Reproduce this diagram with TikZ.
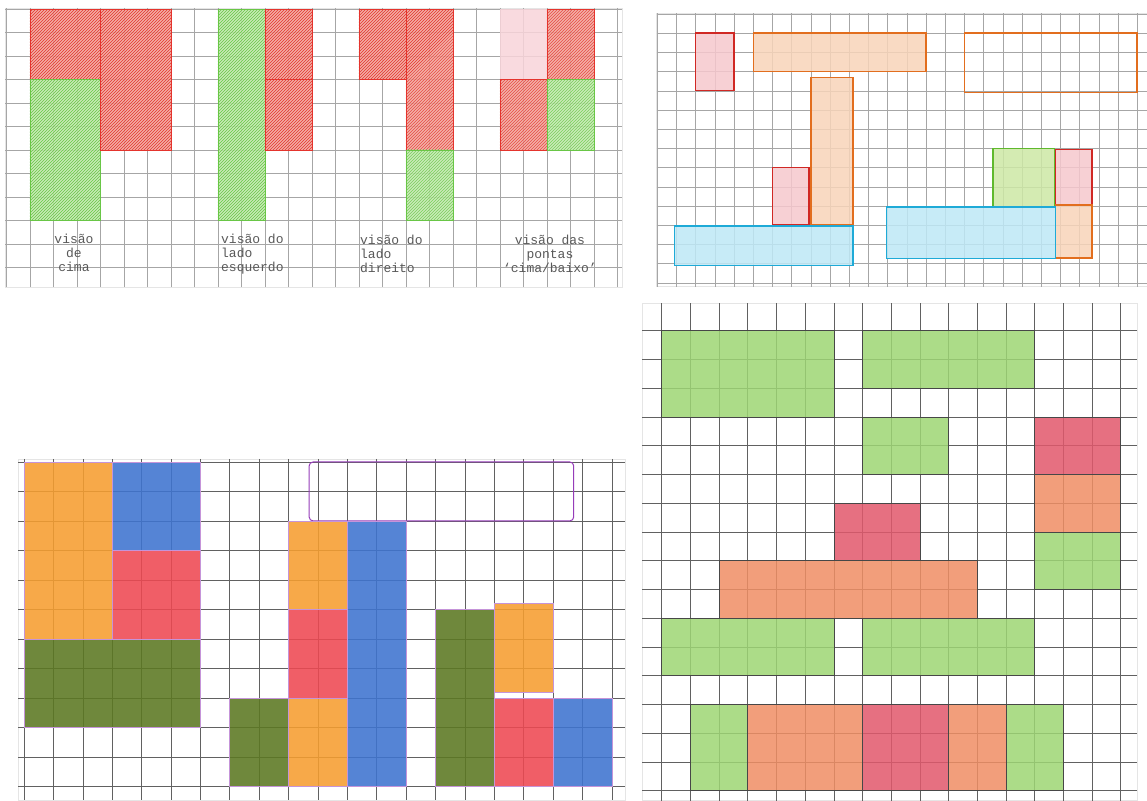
\documentclass[tikz,border=0pt]{standalone}
\usepackage{fontspec}
\usetikzlibrary{patterns}
\newfontfamily\handfont{Liberation Mono}
\definecolor{hatchred}{RGB}{228,52,45}
\definecolor{hatchredfill}{RGB}{242,160,150}
\definecolor{hatchgreen}{RGB}{105,198,70}
\definecolor{hatchgreenfill}{RGB}{190,232,170}
\definecolor{softpink}{RGB}{249,212,218}
\definecolor{penred}{RGB}{208,40,36}
\definecolor{penorange}{RGB}{226,110,30}
\definecolor{pencyan}{RGB}{30,170,215}
\definecolor{pengreen}{RGB}{95,185,45}
\definecolor{tintred}{RGB}{246,200,205}
\definecolor{tintorange}{RGB}{248,212,185}
\definecolor{tintcyan}{RGB}{190,232,246}
\definecolor{tintgreen}{RGB}{205,232,165}
\definecolor{crayorange}{RGB}{246,158,48}
\definecolor{crayblue}{RGB}{62,116,208}
\definecolor{crayred}{RGB}{238,72,82}
\definecolor{crayolive}{RGB}{92,120,34}
\definecolor{craypurple}{RGB}{150,60,185}
\definecolor{leafgreen}{RGB}{158,214,116}
\definecolor{rosered}{RGB}{226,88,108}
\definecolor{salmon}{RGB}{240,142,100}

\begin{document}
\begin{tikzpicture}[
        x=1pt, y=-1pt,
        paper/.style={fill=white, draw=black!10, line width=0.4pt},
        gridline/.style={draw=black!35, line width=0.5pt},
        darkgrid/.style={draw=black!62, line width=0.55pt},
        redhatch/.style={fill=hatchredfill, draw=hatchred, line width=0.8pt, fill opacity=0.85,
            postaction={pattern=north east lines, pattern color=hatchred}},
        greenhatch/.style={fill=hatchgreenfill, draw=hatchgreen, line width=0.8pt, fill opacity=0.85,
            postaction={pattern=north east lines, pattern color=hatchgreen}},
        pinkwash/.style={fill=softpink, fill opacity=0.85},
        penbox/.style={line width=1.4pt, fill opacity=0.85},
        crayon/.style={draw=craypurple!55, line width=0.6pt, fill opacity=0.88},
        pencil/.style={draw=black!72, line width=0.6pt, fill opacity=0.85},
        hand/.style={font=\handfont\fontsize{13}{14}\selectfont, text=black!65, inner sep=0pt}
        ]
        % top left sheet
        \begin{scope}[xshift=6.5pt, yshift=-9.3pt, x=23.5pt, y=-23.45pt]
            \draw[paper] (-0.06,-0.06) rectangle (26.19,11.84);
            \foreach \i in {0,...,26} \draw[gridline] (\i,-0.06) -- (\i,11.84);
            \foreach \j in {0,...,11} \draw[gridline] (-0.06,\j) -- (26.19,\j);

            % de cima
            \draw[redhatch] (1,0) rectangle (4,3);
            \draw[greenhatch] (1,3) rectangle (4,9);
            \draw[redhatch] (4,0) rectangle (7,6);

            % lado esquerdo
            \draw[greenhatch] (9,0) rectangle (11,9);
            \draw[redhatch] (11,0) rectangle (13,3);
            \draw[redhatch] (11,3) rectangle (13,6);

            % lado direito
            \draw[redhatch] (15,0) rectangle (17,3);
            \draw[redhatch] (17,0) rectangle (19,6);
            \draw[greenhatch] (17,6) rectangle (19,9);

            % pontas
            \fill[pinkwash] (21,0) rectangle (23,3);
            \draw[redhatch] (23,0) rectangle (25,3);
            \draw[redhatch] (21,3) rectangle (23,6);
            \draw[greenhatch] (23,3) rectangle (25,6);
        \end{scope}

        \node[hand, align=center] (cima) at (74,253) {visão\\de\\cima};
        \node[hand, align=left, anchor=west] (ladoesq) at (221,254) {visão do\\lado\\esquerdo};
        \node[hand, align=left, anchor=west] (ladodir) at (360,254) {visão do\\lado\\direito};
        \node[hand, align=center] (pontas) at (550,254) {visão das\\pontas\\‘cima/baixo’};

        % top right sheet
        \begin{scope}[xshift=657.3pt, yshift=-14pt, x=19.2pt, y=-19.2pt]
            \draw[paper] (-0.03,-0.05) rectangle (25.5,14.2);
            \foreach \i in {0,...,25} \draw[gridline] (\i,-0.05) -- (\i,14.2);
            \foreach \j in {0,...,14} \draw[gridline] (-0.03,\j) -- (25.5,\j);

            \draw[penbox, draw=penred, fill=tintred] (2,1) rectangle (4,4);
            \draw[penbox, draw=penorange, fill=tintorange] (5,1) rectangle (14,3);
            \draw[penbox, draw=penorange, fill=tintorange] (8,3.3) rectangle (10.2,11);
            \draw[penbox, draw=penred, fill=tintred] (6,8) rectangle (7.9,11);
            \draw[penbox, draw=pencyan, fill=tintcyan] (0.9,11.05) rectangle (10.2,13.1);

            \draw[penbox, draw=penorange] (16,1) rectangle (25,4.1);
            \draw[penbox, draw=pengreen, fill=tintgreen] (17.5,7) rectangle (20.7,10.05);
            \draw[penbox, draw=penred, fill=tintred] (20.75,7.05) rectangle (22.65,9.95);
            \draw[penbox, draw=penorange, fill=tintorange] (20.75,9.95) rectangle (22.65,12.7);
            \draw[penbox, draw=pencyan, fill=tintcyan] (11.95,10.05) rectangle (20.75,12.75);
        \end{scope}

        % bottom left sheet
        \begin{scope}[xshift=24pt, yshift=-462pt, x=29.4pt, y=-29.5pt]
            \draw[paper] (-0.2,-0.1) rectangle (20.44,11.46);
            \foreach \i in {0,...,20} \draw[darkgrid] (\i,-0.1) -- (\i,11.46);
            \foreach \j in {0,...,11} \draw[darkgrid] (-0.2,\j) -- (20.44,\j);

            \draw[crayon, fill=crayorange] (0,0) rectangle (3,6);
            \draw[crayon, fill=crayblue] (3,0) rectangle (6,3);
            \draw[crayon, fill=crayred] (3,3) rectangle (6,6);
            \draw[crayon, fill=crayolive] (0,6) rectangle (6,9);

            \draw[draw=craypurple, line width=1pt, rounded corners=4pt] (9.7,0) rectangle (18.7,2);
            \draw[crayon, fill=crayorange] (9,2) rectangle (11,5);
            \draw[crayon, fill=crayred] (9,5) rectangle (11,8);
            \draw[crayon, fill=crayorange] (9,8) rectangle (11,11);
            \draw[crayon, fill=crayolive] (7,8) rectangle (9,11);
            \draw[crayon, fill=crayblue] (11,2) rectangle (13,11);

            \draw[crayon, fill=crayolive] (14,5) rectangle (16,11);
            \draw[crayon, fill=crayorange] (16,4.8) rectangle (18,7.8);
            \draw[crayon, fill=crayred] (16,8) rectangle (18,11);
            \draw[crayon, fill=crayblue] (18,8) rectangle (20,11);
        \end{scope}

        % bottom right sheet
        \begin{scope}[xshift=661.7pt, yshift=-330.7pt, x=28.7pt, y=-28.75pt]
            \draw[paper] (-0.69,-0.96) rectangle (16.57,16.35);
            \foreach \i in {0,...,16} \draw[darkgrid] (\i,-0.96) -- (\i,16.35);
            \foreach \j in {0,...,16} \draw[darkgrid] (-0.69,\j) -- (16.57,\j);

            \draw[pencil, fill=leafgreen] (0,0) rectangle (6,3);
            \draw[pencil, fill=leafgreen] (7,0) rectangle (13,2);
            \draw[pencil, fill=leafgreen] (7,3) rectangle (10,5);
            \draw[pencil, fill=rosered] (13,3) rectangle (16,5);
            \draw[pencil, fill=salmon] (13,5) rectangle (16,7);
            \draw[pencil, fill=leafgreen] (13,7) rectangle (16,9);
            \draw[pencil, fill=rosered] (6,6) rectangle (9,8);
            \draw[pencil, fill=salmon] (2,8) rectangle (11,10);
            \draw[pencil, fill=leafgreen] (0,10) rectangle (6,12);
            \draw[pencil, fill=leafgreen] (7,10) rectangle (13,12);

            \draw[pencil, fill=leafgreen] (1,13) rectangle (3,16);
            \draw[pencil, fill=salmon] (3,13) rectangle (7,16);
            \draw[pencil, fill=rosered] (7,13) rectangle (10,16);
            \draw[pencil, fill=salmon] (10,13) rectangle (12,16);
            \draw[pencil, fill=leafgreen] (12,13) rectangle (14,16);
        \end{scope}

        \useasboundingbox (0,0) rectangle (1147,800);
    \end{tikzpicture}
\end{document}
